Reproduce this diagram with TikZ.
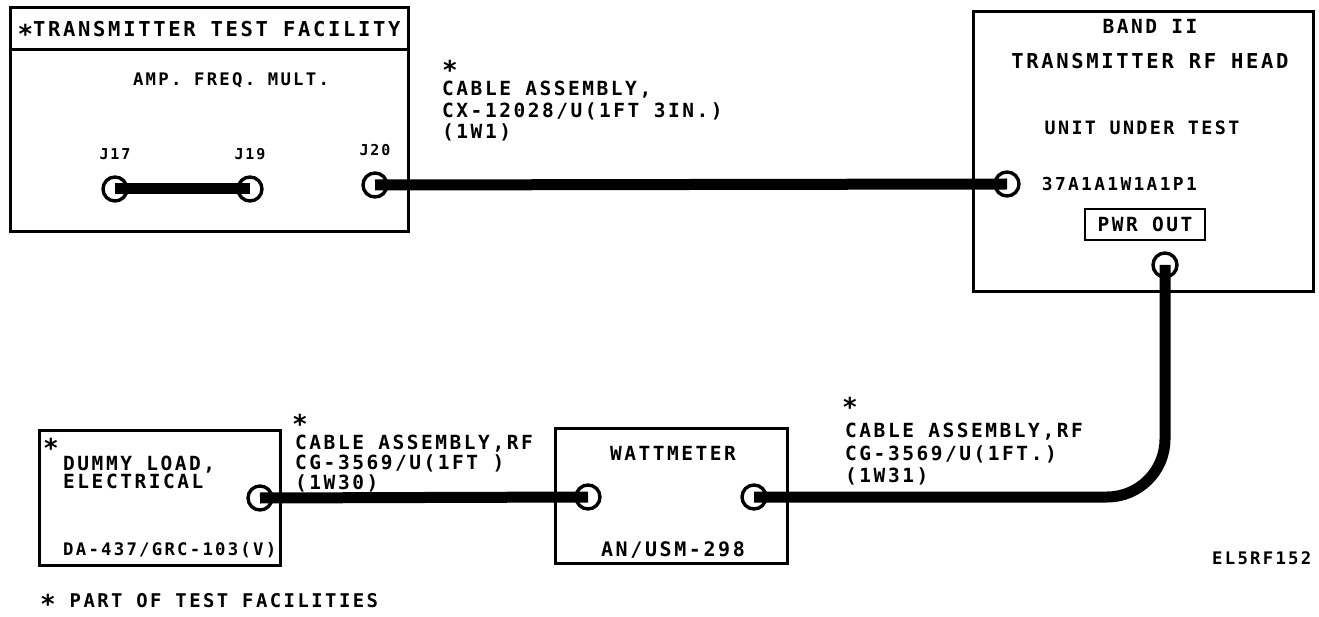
\documentclass[tikz,border=0pt]{standalone}
\usepackage{fontspec}
\setmainfont{DejaVu Sans Mono}[LetterSpace=13]
\usetikzlibrary{positioning}
\newcommand\partmark{{\fontsize{26}{20}\selectfont\raisebox{-0.3em}[0.46em][0pt]{*}}}
\newcommand\inmark{\raisebox{1pt}{\partmark}}
\tikzset{
  box/.style={draw,line width=3pt,inner sep=0pt},
  jack/.style={draw,circle,fill=white,line width=3.4pt,minimum size=24pt,inner sep=0pt},
  cable/.style={line width=11pt},
  txt/.style={inner sep=0pt,align=left,font=\bfseries\fontsize{19.5}{20}\selectfont},
  smalltxt/.style={txt,font=\bfseries\fontsize{15}{16}\selectfont},
  bigtxt/.style={txt,font=\bfseries\fontsize{20.5}{22}\selectfont},
  wiretxt/.style={txt,anchor=north west,font=\bfseries\fontsize{19.5}{21.5}\selectfont},
}

\begin{document}
\begin{tikzpicture}[x=1pt,y=-1pt]
\useasboundingbox (0,0) rectangle (1319,617);
\node[box,minimum width=398pt,minimum height=224pt] (ttf) at (209,120) {};
\draw[line width=3pt] (ttf.west |- 0,50) -- (ttf.east |- 0,50);
\node[bigtxt] (ttftitle) at (209,29) {\inmark TRANSMITTER TEST FACILITY};
\node[txt,font=\bfseries\fontsize{17.3}{18}\selectfont] (amp) at (231,80) {AMP. FREQ. MULT.};
\node[jack] (j17) at (115,189) {};
\node[jack] (j19) at (250,189) {};
\node[jack] (j20) at (375,185) {};
\node[smalltxt,above=15pt of j17] (j17lbl) {J17};
\node[smalltxt,above=15pt of j19] (j19lbl) {J19};
\node[smalltxt,above=15pt of j20] (j20lbl) {J20};

\node[box,minimum width=340pt,minimum height=280pt] (uut) at (1143,152) {};
\node[txt] (band) at (1150,26) {BAND II};
\node[bigtxt] (rfhead) at (1150,61) {TRANSMITTER RF HEAD};
\node[txt,font=\bfseries\fontsize{18.4}{18}\selectfont] (uutlbl) at (1142,128) {UNIT UNDER TEST};
\node[jack] (uutin) at (1007,184) {};
\node[txt,font=\bfseries\fontsize{17.9}{18}\selectfont,right=21pt of uutin] (refdes) {37A1A1W1A1P1};
\node[txt,draw,line width=2.4pt,minimum width=120pt,minimum height=31pt] (pwrlbl) at (1145,224.5) {PWR OUT};
\node[jack] (pwrout) at (1165,265) {};

\node[box,minimum width=241pt,minimum height=135pt] (load) at (159.5,497.5) {};
\node[txt] (loadstar) at (51,444) {\partmark};
\node[txt,anchor=north west,font=\bfseries\fontsize{19.5}{17.5}\selectfont] (loadname) at (63,456) {DUMMY LOAD,\\ELECTRICAL};
\node[txt,anchor=west,font=\bfseries\fontsize{17.3}{18}\selectfont] (loadmodel) at (63,550) {DA-437/GRC-103(V)};
\node[jack] (loadout) at (260,498) {};

\node[box,minimum width=232pt,minimum height=135pt] (wm) at (671,495.5) {};
\node[txt] (wmname) at (673,453) {WATTMETER};
\node[txt,font=\bfseries\fontsize{20}{20}\selectfont] (wmmodel) at (673,550) {AN/USM-298};
\node[jack] (wmin) at (588,497) {};
\node[jack] (wmout) at (754,497) {};

\draw[cable] (j17.center) -- (j19.center);
\draw[cable] (j20.center) -- (uutin.center);
\draw[cable] (loadout.center) -- (wmin.center);
\draw[cable,rounded corners=58pt] (pwrout.center) -- (pwrout.center |- wmout.center) -- (wmout.center);

\node[txt] (w1star) at (450,66) {\partmark};
\node[wiretxt] (w1lbl) at (442,81) {CABLE ASSEMBLY,\\CX-12028/U(1FT 3IN.)\\(1W1)};
\node[txt] (w30star) at (300,420) {\partmark};
\node[wiretxt,font=\bfseries\fontsize{19.5}{20}\selectfont] (w30lbl) at (295,435) {CABLE ASSEMBLY,RF\\CG-3569/U(1FT )\\(1W30)};
\node[txt] (w31star) at (850,403) {\partmark};
\node[wiretxt,font=\bfseries\fontsize{19.5}{22.5}\selectfont] (w31lbl) at (845,423) {CABLE ASSEMBLY,RF\\CG-3569/U(1FT.)\\(1W31)};

\node[txt,anchor=base west,font=\bfseries\fontsize{18.9}{20}\selectfont] (note) at (40,607) {\inmark\ PART OF TEST FACILITIES};
\node[txt,anchor=west,font=\bfseries\fontsize{17.3}{18}\selectfont] (figid) at (1212,558) {EL5RF152};
\end{tikzpicture}
\end{document}
